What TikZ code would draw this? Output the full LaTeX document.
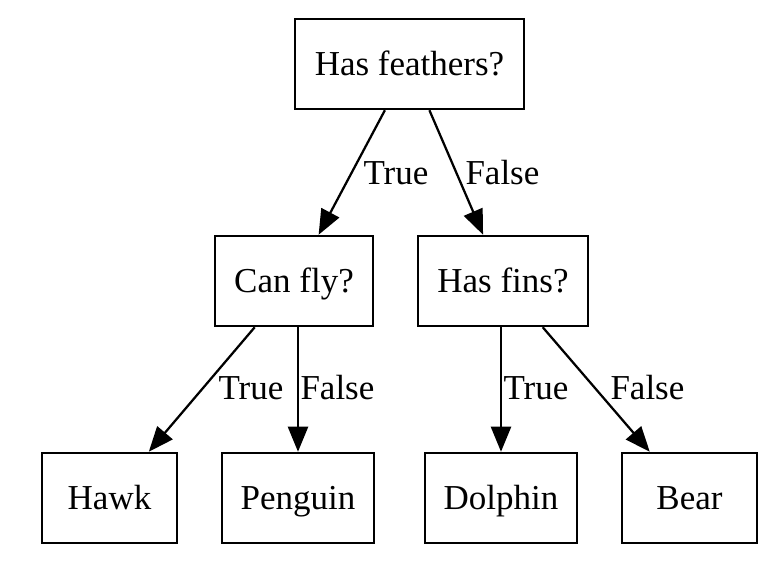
\documentclass[tikz,border=0pt]{standalone}
\usepackage{fontspec}
\setmainfont{Liberation Serif}
\usetikzlibrary{arrows.meta}
\begin{document}
\begin{tikzpicture}[x=0.4pt,y=-0.4pt,
  box/.style={draw,line width=1pt,rectangle,minimum height=36pt,inner sep=0pt,
    font=\fontsize{14}{16}\selectfont,text height=9.3pt,text depth=0pt},
  lbl/.style={inner sep=0pt,font=\fontsize{14}{16}\selectfont,text height=9.3pt,text depth=0pt},
  edge/.style={draw,line width=0.9pt,-{Triangle[length=10pt,width=8pt]}}]
\fill[white] (0,0) rectangle (772,578);
\useasboundingbox (0,0) rectangle (772,578);
\node[box,minimum width=91.6pt] (feathers) at (409.5,64) {Has feathers?};
\node[box,minimum width=63.2pt] (canfly) at (294,281) {Can fly?};
\node[box,minimum width=68pt] (hasfins) at (503,281) {Has fins?};
\node[box,minimum width=54pt] (hawk) at (109.5,498) {Hawk};
\node[box,minimum width=60.8pt] (penguin) at (298,498) {Penguin};
\node[box,minimum width=60.8pt] (dolphin) at (501,498) {Dolphin};
\node[box,minimum width=54pt] (bear) at (689.5,498) {Bear};
\path[edge] (feathers) -- (canfly);
\path[edge] (feathers) -- (hasfins);
\path[edge] (canfly) -- (hawk);
\path[edge] (canfly.south -| penguin.north) -- (penguin.north);
\path[edge] (hasfins.south -| dolphin.north) -- (dolphin.north);
\path[edge] (hasfins) -- (bear);
\node[lbl,anchor=west] (l1) at (363,173) {True};
\node[lbl,anchor=west] (l2) at (465,173) {False};
\node[lbl,anchor=west] (l3) at (218,388) {True};
\node[lbl,anchor=west] (l4) at (300,388) {False};
\node[lbl,anchor=west] (l5) at (503,388) {True};
\node[lbl,anchor=west] (l6) at (610,388) {False};
\end{tikzpicture}
\end{document}
